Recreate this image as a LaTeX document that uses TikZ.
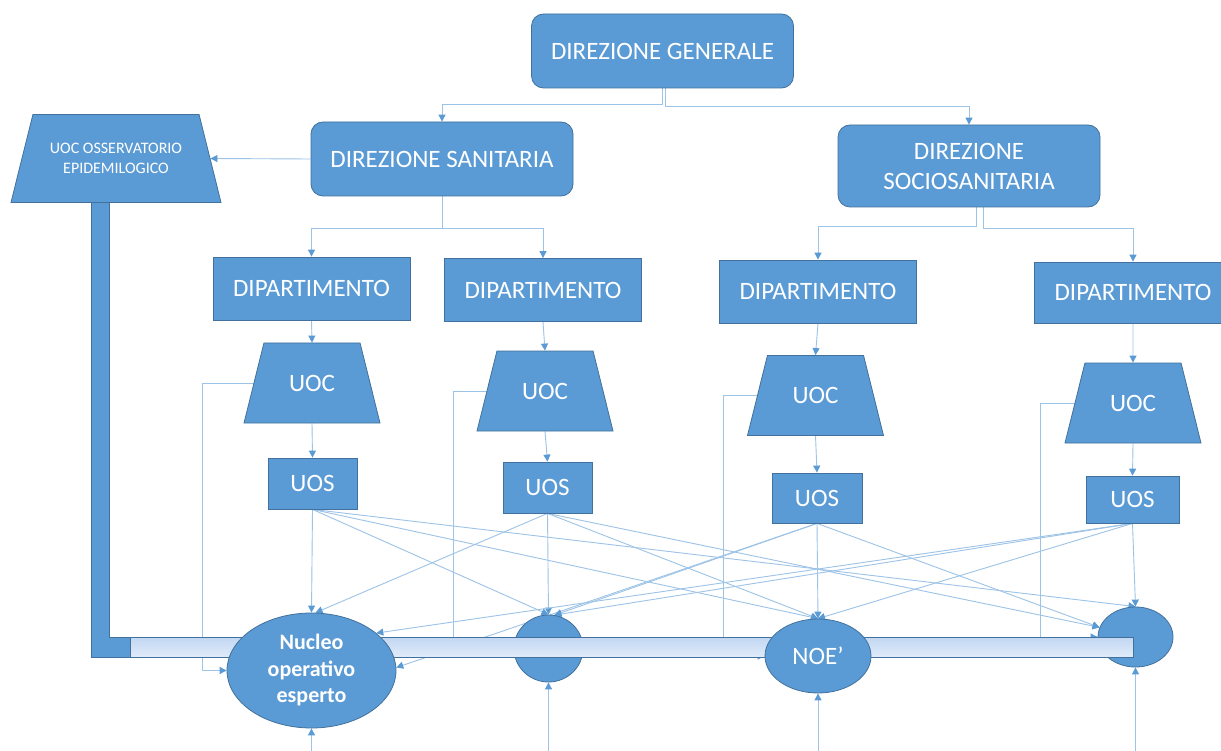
\documentclass[tikz,border=0pt]{standalone}
\usepackage{fontspec}
\setmainfont{Carlito}
\usetikzlibrary{shapes.geometric,arrows.meta,backgrounds}
\definecolor{boxfill}{HTML}{5B9BD5}
\definecolor{boxline}{HTML}{41719C}
\definecolor{linec}{HTML}{9DC3E6}
\definecolor{tipc}{HTML}{5B9BD5}
\definecolor{barTop}{HTML}{C2D7F3}
\definecolor{barBot}{HTML}{E0EBF9}
\begin{document}
\begin{tikzpicture}[x=1pt,y=-1pt,
  base/.style={fill=boxfill, draw=boxline, line width=0.8pt, text=white, font=\fontsize{25}{30}\selectfont, inner sep=0pt, align=center},
  rbox/.style={base, rounded corners=12pt, minimum width=262pt, minimum height=74pt},
  dbox/.style={base, minimum width=197pt, minimum height=63pt},
  sbox/.style={base, minimum width=90pt, minimum height=50pt},
  tbox/.style={base, trapezium, trapezium angle=76, trapezium stretches body=true, text height=16pt, text depth=0pt, inner ysep=32pt, minimum width=136pt},
  ebox/.style={base, ellipse},
  conn/.style={draw=linec, line width=0.9pt, -{Triangle[width=7pt,length=7pt,color=tipc]}},
]
\useasboundingbox (0,0) rectangle (1221,751);
\begin{pgfonlayer}{background}
\fill[white] (0,0) rectangle (1221,751);
\end{pgfonlayer}

% thick L bar from observatory
\filldraw[fill=boxfill, draw=boxline, line width=0.6pt] (91,200) -- (109,200) -- (109,637) -- (130,637) -- (130,657) -- (91,657) -- cycle;

\node[rbox] (dg) at (662.5,51) {DIREZIONE GENERALE};
\node[rbox] (ds) at (442,159) {DIREZIONE SANITARIA};
\node[rbox, minimum height=82pt] (dss) at (969,166) {DIREZIONE\\SOCIOSANITARIA};
\node[base, trapezium, trapezium angle=76, trapezium stretches body=true, inner ysep=28.7pt, minimum width=210pt, font=\fontsize{16}{20}\selectfont] (oss) at (116,158.5) {UOC OSSERVATORIO\\EPIDEMILOGICO};

\node[dbox] (d1) at (311.5,288.5) {DIPARTIMENTO};
\node[dbox] (d2) at (543,290) {DIPARTIMENTO};
\node[dbox] (d3) at (818,291.5) {DIPARTIMENTO};
\node[dbox, minimum height=61pt] (d4) at (1133,292.5) {DIPARTIMENTO};

\node[tbox] (u1) at (312,383) {UOC};
\node[tbox] (u2) at (545,391) {UOC};
\node[tbox] (u3) at (815.5,395.5) {UOC};
\node[tbox] (u4) at (1133,403) {UOC};

\node[sbox, minimum width=89pt, minimum height=51pt] (s1) at (312.5,483.5) {UOS};
\node[sbox, minimum width=89pt, minimum height=51pt] (s2) at (547.5,487.5) {UOS};
\node[sbox] (s3) at (817,498) {UOS};
\node[sbox, minimum width=93pt, minimum height=47pt] (s4) at (1132.5,499.5) {UOS};

\node[ebox, minimum width=69pt, minimum height=67pt] (e2) at (548.5,648.5) {};
\node[ebox, minimum width=75pt, minimum height=60pt] (e4) at (1135.5,637) {};

\node[draw=boxline, line width=0.6pt, top color=barTop, bottom color=barBot, minimum width=1003pt, minimum height=20pt, inner sep=0pt] (bar) at (631.5,647) {};

\node[ebox, minimum width=169pt, minimum height=115pt, font=\fontsize{22}{26.5}\selectfont\bfseries] (e1) at (311.5,670.5) {Nucleo\\operativo\\esperto};
\node[ebox, minimum width=106pt, minimum height=74pt] (e3) at (818,656) {NOE’};

\coordinate (f1) at (202,670.5);
\coordinate (f2) at (453,648.5);
\coordinate (f3) at (723,656);
\coordinate (f4) at (1040,637);
\coordinate (b1) at (311.5,751);
\coordinate (b2) at (548.5,751);
\coordinate (b3) at (818,751);
\coordinate (b4) at (1135.5,751);

\begin{pgfonlayer}{background}
\draw[conn] (dg.south) -- ++(0,16) -| (ds.north);
\draw[conn] ([xshift=3pt]dg.south) -- ++(0,18) -| (dss.north);
\draw[conn] (ds.west) -- (oss.east);
\draw[conn] (ds.south) -- ++(0,32) -| (d1.north);
\draw[conn] (ds.south) -- ++(0,32) -| (d2.north);
\draw[conn] ([xshift=7pt]dss.south) -- ++(0,19) -| (d3.north);
\draw[conn] ([xshift=14pt]dss.south) -- ++(0,21) -| (d4.north);

\foreach \i in {1,2,3,4} {
  \draw[conn] (d\i.south) -- (u\i.north);
  \draw[conn] (u\i.south) -- (s\i.north);
  \draw[conn] (u\i.west) -| (f\i) -- (e\i.west);
  \draw[conn] (b\i) -- (e\i.south);
}

\draw[conn] (s1.south) -- (e1.north);
\draw[conn] (s1.south) -- (e2.north);
\draw[conn] (s1.south) -- (e3.north);
\draw[conn] (s1.south) -- (e4.north);

\draw[conn] (s2.south) -- (e1.86);
\draw[conn] (s2.south) -- (e2.north);
\draw[conn] (s2.south) -- (e3.north);
\draw[conn] (s2.south) -- (e4.165);

\draw[conn] (s3.south) -- (e1.2);
\draw[conn] (s3.south) -- (e2.80);
\draw[conn] (s3.south) -- (e3.north);
\draw[conn] (s3.south) -- (e4.165);

\draw[conn] (s4.south) -- (e1.30);
\draw[conn] (s4.south) -- (e2.80);
\draw[conn] (s4.south) -- (e3.north);
\draw[conn] (s4.south) -- (e4.north);
\end{pgfonlayer}
\end{tikzpicture}
\end{document}
